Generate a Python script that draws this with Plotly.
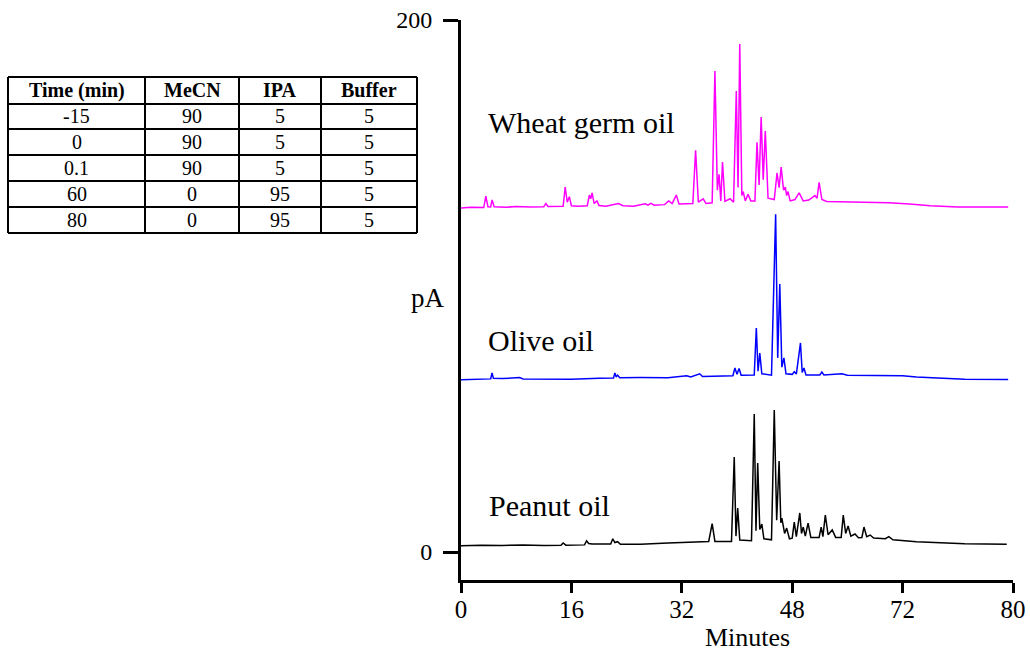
import plotly.graph_objects as go

# ---------------- data ----------------
# Gradient table
table_header = ["Time (min)", "MeCN", "IPA", "Buffer"]
time_min = ["-15", "0", "0.1", "60", "80"]
mecn = ["90", "90", "90", "0", "0"]
ipa = ["5", "5", "5", "95", "95"]
buffer_ = ["5", "5", "5", "5", "5"]

# X tick labels (as printed on the original axis)
x_tickvals = [0, 16, 32, 48, 64, 80]
x_ticktext = ["0", "16", "32", "48", "72", "80"]
y_tickvals = [0, 200]

# Wheat germ oil trace (minutes, pA)
wheat_t = [0.0, 1.5, 3.3, 3.6, 3.9, 4.3, 4.5, 4.8, 6.5, 8.0, 10.0, 12.0, 12.3, 12.6,
           14.8, 15.1, 15.4, 15.7, 16.0, 17.0, 18.3, 18.6, 18.8, 19.0, 19.3, 19.7, 20.0,
           21.0, 22.8, 23.5, 25.0, 26.7, 27.1, 27.5, 28.0, 29.5, 30.1, 30.6, 31.2, 31.6,
           33.6, 34.0, 34.4, 35.1, 35.5, 36.4, 36.8, 37.15, 37.4, 37.65, 37.9, 38.25,
           39.0, 39.5, 39.9, 40.15, 40.4, 40.7, 40.9, 41.2, 41.6, 42.0, 42.6, 42.9, 43.2,
           43.5, 43.8, 44.1, 44.5, 45.4, 45.8, 46.1, 46.4, 46.75, 47.0, 47.2, 47.4, 47.7,
           48.4, 49.0, 49.6, 50.4, 51.3, 51.6, 51.9, 52.3, 53.0, 56.0, 60.0, 62.0, 65.0,
           68.0, 72.0, 79.3]
wheat_y = [129.3, 129.6, 129.5, 133.8, 129.8, 129.7, 132.4, 129.8, 129.6, 129.9, 129.7, 129.8, 131.0, 129.9,
           130.0, 137.2, 131.5, 133.6, 130.2, 130.0, 130.2, 134.2, 132.8, 135.0, 131.0, 132.0, 130.3,
           130.0, 131.0, 130.2, 130.0, 130.9, 130.4, 131.1, 130.4, 130.6, 132.0, 131.0, 134.2, 130.8,
           131.0, 151.0, 131.5, 132.8, 131.0, 131.3, 180.8, 136.0, 142.0, 132.0, 146.6, 131.8,
           132.8, 131.5, 173.3, 137.0, 191.0, 134.0, 135.5, 132.0, 134.5, 132.0, 132.0, 154.0, 138.0,
           163.5, 140.0, 158.3, 133.0, 132.5, 142.5, 137.0, 144.7, 136.0, 137.2, 134.0, 135.5, 132.0,
           132.5, 135.0, 132.0, 132.3, 134.0, 133.0, 139.0, 132.5, 131.8, 131.6, 131.2, 131.3, 130.8,
           130.2, 129.7, 129.7]

# Olive oil trace (minutes, pA)
olive_t = [0.0, 2.0, 4.3, 4.5, 4.7, 6.0, 8.5, 9.0, 12.0, 16.0, 20.0, 22.1, 22.3, 22.5, 22.7,
           23.0, 26.0, 30.0, 32.7, 33.3, 34.6, 35.0, 38.0, 39.4, 39.7, 40.0, 40.3, 40.6, 42.5,
           42.8, 43.05, 43.3, 43.6, 44.6, 45.0, 45.6, 45.9, 46.2, 46.5, 46.8, 47.1, 48.0, 48.3,
           48.6, 49.2, 49.45, 49.7, 50.0, 52.0, 52.3, 52.6, 55.2, 56.0, 60.0, 64.0, 66.0, 70.0,
           73.0, 79.3]
olive_y = [64.8, 65.0, 65.1, 67.3, 65.3, 65.2, 65.6, 65.1, 65.0, 65.0, 65.3, 65.4, 67.3, 65.8, 66.5,
           65.5, 65.6, 65.5, 66.3, 65.8, 67.0, 66.0, 66.2, 66.3, 69.2, 66.8, 69.0, 66.5, 66.6,
           84.2, 68.0, 74.8, 67.0, 66.6, 66.5, 127.0, 73.0, 100.8, 69.5, 73.0, 67.0, 66.8, 67.8,
           66.9, 78.6, 67.5, 69.2, 66.6, 66.6, 67.7, 66.6, 67.0, 66.5, 66.4, 66.3, 65.8, 65.4,
           65.0, 64.9]

# Peanut oil trace (minutes, pA)
peanut_t = [0.0, 3.0, 6.0, 9.0, 12.0, 14.5, 14.8, 15.2, 17.9, 18.2, 18.5, 19.0, 21.7, 22.0, 22.3,
            22.7, 23.1, 26.0, 30.0, 33.0, 35.9, 36.4, 36.8, 39.2, 39.6, 39.85, 40.1, 40.4, 42.1,
            42.5, 42.75, 43.0, 43.3, 43.6, 43.9, 45.0, 45.4, 45.75, 46.1, 46.35, 46.5, 46.9, 47.2,
            47.6, 48.0, 48.3, 48.6, 49.1, 49.35, 49.6, 49.9, 50.3, 50.7, 51.9, 52.2, 52.45, 52.8,
            53.2, 53.8, 54.3, 55.1, 55.4, 55.75, 56.1, 56.5, 57.1, 57.6, 58.1, 58.4, 58.8, 59.3,
            59.8, 61.5, 62.0, 62.6, 66.0, 70.0, 73.0, 79.1]
peanut_y = [2.4, 2.6, 2.5, 2.7, 2.5, 2.6, 3.4, 2.6, 2.7, 4.2, 3.2, 3.0, 3.0, 5.0, 3.6,
            3.9, 2.9, 2.9, 3.4, 3.7, 4.0, 10.7, 4.0, 4.0, 35.7, 6.0, 16.5, 4.5, 4.3,
            51.9, 8.0, 33.5, 8.5, 10.5, 5.0, 4.6, 53.4, 12.0, 34.2, 11.0, 12.8, 7.0, 9.0,
            5.0, 5.2, 11.3, 5.8, 14.7, 7.0, 9.4, 6.0, 10.9, 5.5, 5.5, 9.4, 5.8, 13.9,
            6.5, 8.3, 5.5, 5.5, 13.9, 7.0, 9.8, 6.0, 6.8, 5.4, 5.5, 9.4, 5.8, 6.4,
            5.3, 5.0, 5.8, 4.6, 3.9, 3.5, 3.1, 2.9]

trace_labels = ["Wheat germ oil", "Olive oil", "Peanut oil"]
trace_colors = ["#FF00FF", "#0000FF", "#000000"]
label_pos = [(3.6, 161.5), (3.6, 79.5), (3.8, 17.5)]

# ---------------- figure ----------------
W, H = 1030, 651
FONT = "Liberation Serif"

def px(x):
    return x / W

def py(y):
    return 1 - y / H

fig = go.Figure()
for t, y, c in zip([wheat_t, olive_t, peanut_t], [wheat_y, olive_y, peanut_y], trace_colors):
    fig.add_trace(go.Scatter(x=t, y=y, mode="lines", line=dict(color=c, width=1.5),
                             showlegend=False, hoverinfo="skip"))

annotations = []
for (lx, ly), txt in zip(label_pos, trace_labels):
    annotations.append(dict(x=lx, y=ly, xref="x", yref="y", text=txt, showarrow=False,
                            xanchor="left", yanchor="middle",
                            font=dict(family=FONT, size=30, color="black")))

annotations.append(dict(x=px(428), y=py(298), xref="paper", yref="paper", text="pA",
                        showarrow=False, xanchor="center", yanchor="middle",
                        font=dict(family=FONT, size=27, color="black")))
annotations.append(dict(x=px(747), y=py(637), xref="paper", yref="paper", text="Minutes",
                        showarrow=False, xanchor="center", yanchor="middle",
                        font=dict(family=FONT, size=26, color="black")))

# table drawn with shapes and text
col_edges = [8, 145, 239, 321, 417]
row_edges = [77, 104, 129, 155, 181, 207, 233]
shapes = []
for xe in col_edges:
    shapes.append(dict(type="line", xref="paper", yref="paper", x0=px(xe), x1=px(xe),
                       y0=py(row_edges[0]), y1=py(row_edges[-1]), line=dict(color="black", width=2)))
for ye in row_edges:
    shapes.append(dict(type="line", xref="paper", yref="paper", x0=px(col_edges[0]), x1=px(col_edges[-1]),
                       y0=py(ye), y1=py(ye), line=dict(color="black", width=2)))

columns = [time_min, mecn, ipa, buffer_]
for ci in range(4):
    cx = (col_edges[ci] + col_edges[ci + 1]) / 2
    cy = (row_edges[0] + row_edges[1]) / 2
    annotations.append(dict(x=px(cx), y=py(cy), xref="paper", yref="paper",
                            text="<b>" + table_header[ci] + "</b>", showarrow=False,
                            xanchor="center", yanchor="middle",
                            font=dict(family=FONT, size=20, color="black")))
    for ri, val in enumerate(columns[ci]):
        cy = (row_edges[ri + 1] + row_edges[ri + 2]) / 2
        annotations.append(dict(x=px(cx), y=py(cy), xref="paper", yref="paper",
                                text=val, showarrow=False, xanchor="center", yanchor="middle",
                                font=dict(family=FONT, size=20, color="black")))

fig.update_layout(
    width=W, height=H,
    margin=dict(l=0, r=0, t=0, b=0, pad=0),
    paper_bgcolor="white", plot_bgcolor="white",
    font=dict(family=FONT, color="black"),
    xaxis=dict(domain=[px(461), px(1013)], range=[0, 80], tickvals=x_tickvals, ticktext=x_ticktext,
               showline=True, linecolor="black", linewidth=3, ticks="outside", ticklen=10,
               tickwidth=3, tickcolor="black", showgrid=False, zeroline=False,
               ticklabelstandoff=-5,
               tickfont=dict(family=FONT, size=25, color="black"), automargin=False),
    yaxis=dict(domain=[py(580), py(20)], range=[-10.5, 200], tickvals=y_tickvals,
               showline=True, linecolor="black", linewidth=3, ticks="outside", ticklen=15,
               tickwidth=3, tickcolor="black", showgrid=False, zeroline=False,
               ticklabelstandoff=6,
               tickfont=dict(family=FONT, size=24, color="black"), automargin=False),
    annotations=annotations,
    shapes=shapes,
)

fig.write_html("out.html", config={"displayModeBar": False},
               post_script="document.body.style.margin='0';document.body.style.overflow='hidden';")
